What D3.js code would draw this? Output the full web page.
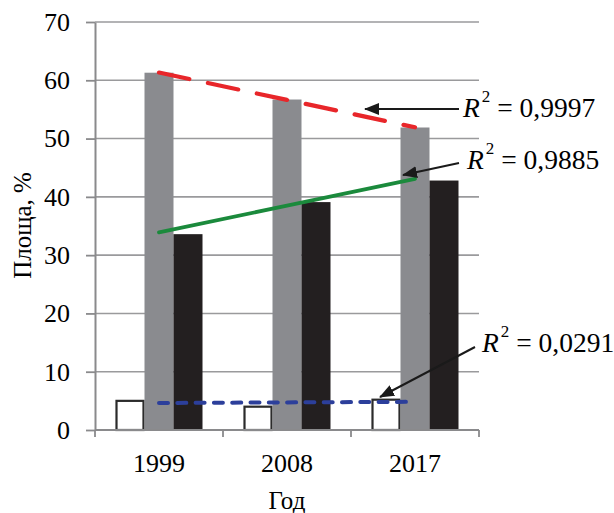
<!DOCTYPE html>
<html>
<head>
<meta charset="utf-8">
<script src="https://cdn.jsdelivr.net/npm/d3@7"></script>
<style>
  html, body { margin: 0; padding: 0; background: #fff; }
  svg { display: block; }
  text { font-family: "Liberation Serif", "Times New Roman", serif; fill: #000; }
</style>
</head>
<body>
<svg id="chart" width="614" height="513"></svg>
<script>
// Years on the category axis
const years = ["1999", "2008", "2017"];
// Three series of area shares, %
const seriesA = [5.0, 4.0, 5.2];     // white bars
const seriesB = [61.3, 56.7, 51.9];  // grey bars
const seriesC = [33.6, 39.1, 42.8];  // black bars
const yTicks = [0, 10, 20, 30, 40, 50, 60, 70];
// Coefficients of determination shown next to the trend lines
const r2Labels = ["0,9997", "0,9885", "0,0291"];

const svg = d3.select("#chart");
const plotL = 95, plotR = 479, plotT = 22, plotB = 430;

const x = d3.scaleBand().domain(years).range([plotL, plotR]);
const y = d3.scaleLinear().domain([0, 70]).range([plotB, plotT]);

const series = [
  { key: "a", values: seriesA, fill: "#ffffff", stroke: "#2b2b2b" },
  { key: "b", values: seriesB, fill: "#8a8b8f", stroke: "none" },
  { key: "c", values: seriesC, fill: "#231f20", stroke: "none" }
];
const groupW = 87;
const inner = d3.scaleBand().domain(series.map(s => s.key)).range([0, groupW]);

// Horizontal gridlines
svg.append("g")
  .selectAll("line")
  .data(yTicks.filter(t => t > 0))
  .join("line")
  .attr("x1", plotL).attr("x2", plotR)
  .attr("y1", d => y(d)).attr("y2", d => y(d))
  .attr("stroke", "#9a9a9c").attr("stroke-width", 1.6);

// Bars
series.forEach(s => {
  svg.append("g")
    .selectAll("rect")
    .data(s.values.map((v, i) => ({ year: years[i], v })))
    .join("rect")
    .attr("x", d => x(d.year) + x.bandwidth() / 2 - groupW / 2 + inner(s.key) + (s.stroke !== "none" ? 1 : 0))
    .attr("width", inner.bandwidth() - (s.stroke !== "none" ? 2 : 0))
    .attr("y", d => y(d.v))
    .attr("height", d => y(0) - y(d.v))
    .attr("fill", s.fill)
    .attr("stroke", s.stroke)
    .attr("stroke-width", 2.2);
});

// Y axis
const yAxis = d3.axisLeft(y).tickValues(yTicks).tickSize(9).tickPadding(16).tickSizeOuter(0);
const gy = svg.append("g").attr("transform", `translate(${plotL},0)`).call(yAxis);
gy.select(".domain").attr("stroke", "#8a8a8c").attr("stroke-width", 2);
gy.selectAll(".tick line").attr("stroke", "#8a8a8c").attr("stroke-width", 1.8);
gy.selectAll(".tick text")
  .attr("font-size", 26).attr("font-family", "Liberation Serif").attr("fill", "#000");

// X axis
const xAxis = d3.axisBottom(x).tickSize(0).tickPadding(24);
const gx = svg.append("g").attr("transform", `translate(0,${plotB})`).call(xAxis);
gx.select(".domain").remove();
gx.selectAll(".tick text")
  .attr("font-size", 26).attr("font-family", "Liberation Serif").attr("fill", "#000");
svg.append("line")
  .attr("x1", plotL).attr("x2", plotR).attr("y1", plotB).attr("y2", plotB)
  .attr("stroke", "#8a8a8c").attr("stroke-width", 2);
// Category boundary ticks
const bounds = years.map(d => x(d)).concat([x(years[years.length - 1]) + x.bandwidth()]);
svg.append("g").selectAll("line").data(bounds).join("line")
  .attr("x1", d => d).attr("x2", d => d)
  .attr("y1", plotB).attr("y2", plotB + 7)
  .attr("stroke", "#8a8a8c").attr("stroke-width", 1.8);

// Least-squares linear trend over category index 1..n
function trend(values) {
  const xs = values.map((_, i) => i + 1);
  const mx = d3.mean(xs), my = d3.mean(values);
  const slope = d3.sum(xs.map((xi, i) => (xi - mx) * (values[i] - my))) /
                d3.sum(xs.map(xi => (xi - mx) ** 2));
  const icpt = my - slope * mx;
  return xs.map((xi, i) => ({ year: years[i], v: icpt + slope * xi }));
}
const line = d3.line().x(d => x(d.year) + x.bandwidth() / 2).y(d => y(d.v));

const trends = [
  { values: seriesB, color: "#e8262a", width: 4.2, dash: "31,19" },
  { values: seriesC, color: "#1b8a3c", width: 3.8, dash: null },
  { values: seriesA, color: "#2c3f9b", width: 4, dash: "9,9.3" }
];
trends.forEach(t => {
  svg.append("path")
    .datum(trend(t.values))
    .attr("d", line)
    .attr("fill", "none")
    .attr("stroke", t.color)
    .attr("stroke-width", t.width)
    .attr("stroke-linecap", "round")
    .attr("stroke-dasharray", t.dash);
});

// Arrow marker
svg.append("defs").append("marker")
  .attr("id", "arrow")
  .attr("viewBox", "0 0 15 12")
  .attr("refX", 14).attr("refY", 6)
  .attr("markerWidth", 7.5).attr("markerHeight", 6)
  .attr("markerUnits", "strokeWidth")
  .attr("orient", "auto")
  .append("path").attr("d", "M0,0 L15,6 L0,12 Z").attr("fill", "#1a1a1a");

// R² callouts
const callouts = [
  { label: r2Labels[0], from: [459, 109], to: [365, 109], tx: 463, ty: 117 },
  { label: r2Labels[1], from: [459, 163], to: [403, 175], tx: 467, ty: 169 },
  { label: r2Labels[2], from: [475, 347], to: [380, 397], tx: 482, ty: 352 }
];
callouts.forEach(c => {
  svg.append("line")
    .attr("x1", c.from[0]).attr("y1", c.from[1])
    .attr("x2", c.to[0]).attr("y2", c.to[1])
    .attr("stroke", "#1a1a1a").attr("stroke-width", 2)
    .attr("marker-end", "url(#arrow)");
  const t = svg.append("text").attr("x", c.tx).attr("y", c.ty).attr("font-size", 27.5);
  t.append("tspan").attr("font-style", "italic").text("R");
  t.append("tspan").attr("font-size", 17).attr("dy", -15).attr("dx", 2).text("2");
  t.append("tspan").attr("dy", 15).text(" = " + c.label);
});

// Axis titles
svg.append("text")
  .attr("transform", `translate(31,${(163 + 288) / 2}) rotate(-90)`)
  .attr("text-anchor", "middle")
  .attr("font-size", 25)
  .text("Площа, %");
svg.append("text")
  .attr("x", 287).attr("y", 509)
  .attr("text-anchor", "middle")
  .attr("font-size", 25)
  .text("Год");
</script>
</body>
</html>
